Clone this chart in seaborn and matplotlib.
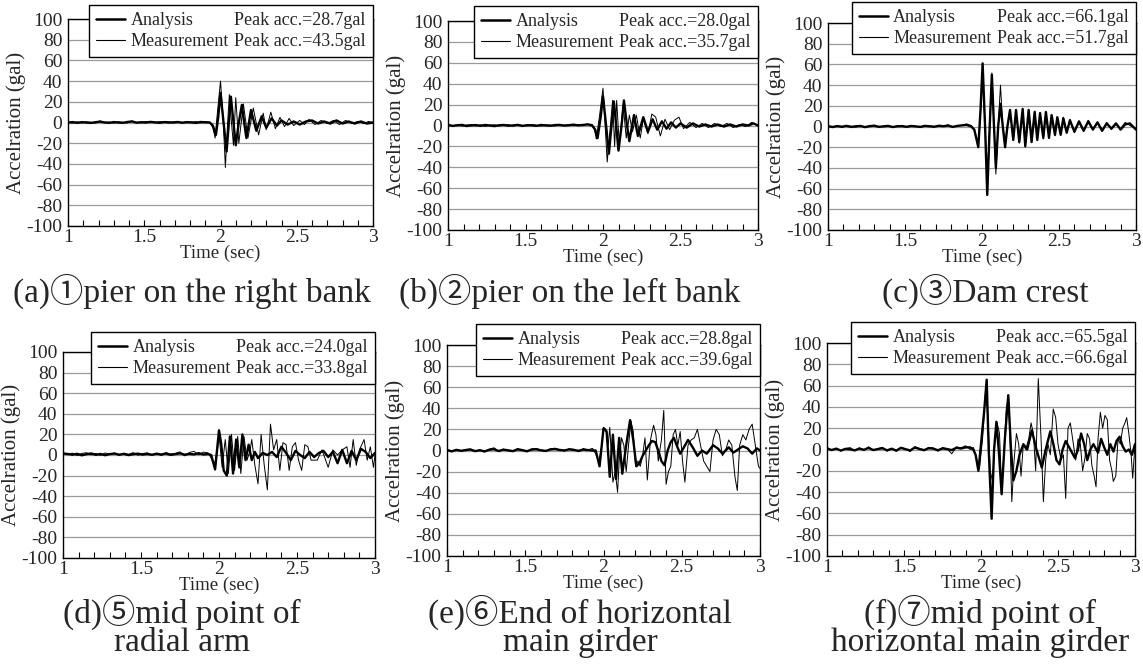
import matplotlib
matplotlib.use("Agg")
import matplotlib.pyplot as plt
from matplotlib.lines import Line2D
from matplotlib.ticker import MultipleLocator
import seaborn as sns

# time axis before the shaking (quiet part), shared by all panels
T_PRE = [1.00, 1.03, 1.06, 1.09, 1.12, 1.15, 1.18, 1.21, 1.24, 1.27,
         1.30, 1.33, 1.36, 1.39, 1.42, 1.45, 1.48, 1.51, 1.54, 1.57,
         1.60, 1.63, 1.66, 1.69, 1.72, 1.75, 1.78, 1.81, 1.84, 1.87, 1.90]

# (a) pier on the right bank
PRE_ANA_a = [0, 0.4, -0.3, 0.3, 0, -0.4, 0.3, 0.8, 0.1, -0.3, 0.4, 0, -0.3, 0.5, 1.0, -0.2,
             0.3, 0, 0.6, 0.2, -0.3, 0.4, 0.2, 0, 0.5, -0.2, 0.3, 0.1, -0.4, 0.5, 0.2]
PRE_MEA_a = [0.3, -0.5, 0.6, -0.3, 0.5, 0.2, -0.6, 1.6, -0.3, 0.4, -0.5, 0.7, 0.1, -0.4, 1.5, 0.2,
             -0.3, 0.8, 0.5, -0.2, 0.9, 0.4, -0.5, 0.6, 0.3, -0.3, 0.7, 0.2, 0.9, -0.4, 1.0]
TA_a = [1.93, 1.95, 1.97, 1.985, 2.0, 2.02, 2.04, 2.055, 2.068, 2.085, 2.10, 2.12, 2.14, 2.155,
        2.17, 2.20, 2.235, 2.27, 2.30, 2.335, 2.37, 2.40, 2.44, 2.48, 2.52, 2.56, 2.60, 2.64,
        2.68, 2.72, 2.76, 2.80, 2.84, 2.88, 2.92, 2.96, 3.00]
ANA_a = [0, -3, -12, 5, 28.7, 0, -28, 0, 25, 0, -22, 0, 17, 0, -15, 12, -8, 6, -5, 4, -3, 2,
         -2, 1, -2, 1, 2, -1, 1, -1, 2, -1, 1, -1, 1, -1, 0]
TM_a = [1.93, 1.95, 1.965, 1.98, 2.0, 2.017, 2.032, 2.045, 2.058, 2.072, 2.085, 2.10, 2.12,
        2.15, 2.18, 2.215, 2.25, 2.28, 2.30, 2.33, 2.36, 2.39, 2.42, 2.45, 2.48, 2.52, 2.55,
        2.58, 2.62, 2.66, 2.70, 2.74, 2.78, 2.82, 2.86, 2.90, 2.94, 2.97, 3.00]
MEA_a = [0, -5, -15, 10, 40, 5, -43.5, -5, 27, 0, -22, 24, -20, 18, -15, 14, -12, 9, -7, 10,
         -6, 5, -4, 4, -3, 2, -2, 3, -2, 2, -1, 2, -2, 2, -1, 1, -1, 1, 0]

# (b) pier on the left bank
PRE_ANA_b = [0.5, -0.4, 0.2, 0.6, -0.5, 0.1, 0.4, -0.3, 0.5, 0, -0.6, 0.3, 0.5, -0.2, 0.1, 0.6,
             -0.4, 0.3, 0.2, -0.3, 0.5, 0.1, -0.2, 0.4, 0.6, -0.1, 0.3, 0.8, 0.2, 0.5, 1.0]
PRE_MEA_b = [1.0, -0.3, 0.8, -0.6, 0.4, 0.9, -0.5, 0.6, -0.8, 0.3, 0.7, -0.4, 0.2, 0.8, -0.6, 0.5,
             0.1, -0.3, 0.9, 0.2, -0.5, 0.6, 0.3, -0.4, 0.7, 0.2, 0.5, -0.2, 0.9, 0.4, 1.5]
TA_b = [1.93, 1.95, 1.965, 1.985, 2.0, 2.02, 2.038, 2.055, 2.07, 2.085, 2.10, 2.12, 2.135,
        2.155, 2.17, 2.20, 2.225, 2.26, 2.29, 2.32, 2.35, 2.38, 2.41, 2.44, 2.47, 2.50, 2.54,
        2.58, 2.62, 2.66, 2.70, 2.74, 2.78, 2.82, 2.86, 2.90, 2.94, 2.97, 3.00]
ANA_b = [0, -4, -12, 8, 28.0, 0, -27, 0, 23, 0, -24, 0, 24, 0, -15, 10, -10, 8, -6, 6, -4, 4,
         -3, 3, -2, 2, -2, 2, -1, 1, -1, 1, -1, 1, -1, 1, 0, 2, 0]
TM_b = [1.93, 1.945, 1.957, 1.98, 2.0, 2.012, 2.027, 2.045, 2.062, 2.075, 2.088, 2.105, 2.13,
        2.15, 2.17, 2.19, 2.215, 2.24, 2.26, 2.29, 2.315, 2.34, 2.37, 2.40, 2.43, 2.46, 2.49,
        2.52, 2.56, 2.60, 2.64, 2.68, 2.72, 2.76, 2.80, 2.84, 2.88, 2.92, 2.96, 3.00]
MEA_b = [1, -4, -13, 12, 35.7, 5, -35, -5, 24, -20, 24, -18, 20, -12, 10, -6, 10, -12, 6, -8,
         11, 8, -10, 6, -4, 5, 8, -3, 3, -2, 2, -2, 2, -1, 2, -2, 1, -1, 3, 0]

# (c) dam crest
PRE_ANA_c = [0.3, -0.5, 0.4, -0.2, 0.6, -0.4, 0.2, 0.5, -0.6, 0.3, 0.8, -0.3, 0.1, 0.6, -0.5, 0.2,
             0.4, -0.3, 0.5, 0.1, -0.4, 0.6, 0.2, -0.2, 0.7, 0.3, 0.9, -0.4, 0.6, 1.0, 1.5]
PRE_MEA_c = [0.8, -0.6, 0.5, -0.9, 0.7, 0.2, -0.7, 0.9, -0.4, 0.6, 1.1, -0.5, 0.3, 0.8, -0.8, 0.4,
             0.9, -0.6, 0.7, 0.3, -0.7, 0.9, 0.5, -0.5, 1.2, 0.4, 1.6, -0.6, 0.8, 1.4, 2.5]
T_c = [1.93, 1.95, 1.976, 1.99, 2.004, 2.02, 2.034, 2.05, 2.064, 2.078, 2.09, 2.105, 2.12,
       2.135, 2.15, 2.165, 2.182, 2.203, 2.221, 2.242, 2.264, 2.281, 2.303, 2.322, 2.342,
       2.359, 2.377, 2.398, 2.415, 2.435, 2.452, 2.474, 2.489, 2.511, 2.528, 2.55, 2.571,
       2.60, 2.63, 2.66, 2.69, 2.72, 2.75, 2.78, 2.81, 2.84, 2.87, 2.90, 2.93, 2.96, 3.00]
ANA_c = [0, -3, -20, 15, 61, 0, -66.1, 0, 50, 0, -40, 0, 22, 0, -20, 0, 16, -13, 16, -15, 17,
         -19, 16, -15, 14, -13, 13, -11, 14, -11, 11, -8, 9, -8, 8, -6, 6, -5, 5, -4, 5, -3, 4,
         -4, 3, -2, 3, -3, 2, 3, -3]
MEA_c = [1, -4, -18, 12, 48, 0, -50, 0, 51.7, 0, -46, 0, 40, 0, -15, 0, 14, -12, 15, -16, 16,
         -20, 15, -14, 15, -12, 12, -12, 13, -10, 10, -9, 8, -7, 9, -5, 7, -6, 4, -5, 6, -2, 3,
         -5, 4, -3, 2, -2, 4, 1, -2]

# (d) mid point of radial arm
PRE_ANA_d = [1.5, 1.0, 0.3, 1.2, -0.3, 0.8, 1.5, 0.2, 1.0, -0.2, 0.9, 1.4, 0.3, 1.1, -0.1, 0.8,
             1.3, 0.4, 1.0, 0.2, 1.2, 0.5, 1.4, 0.1, 0.9, 1.6, 0.3, 1.1, 0.6, 1.8, 0.5]
PRE_MEA_d = [2.0, 0.5, 1.8, -0.5, 1.5, 2.2, 0.1, 1.6, -0.4, 2.0, 0.8, 1.9, -0.2, 1.7, 0.6, 2.3,
             -0.3, 1.4, 2.1, 0.2, 1.8, -0.5, 2.4, 0.9, 1.6, 3.0, -0.8, 2.5, 3.5, 0.2, 2.8]
TA_d = [1.93, 1.95, 1.975, 2.0, 2.015, 2.03, 2.05, 2.07, 2.09, 2.11, 2.13, 2.15, 2.17, 2.19,
        2.21, 2.23, 2.25, 2.28, 2.31, 2.34, 2.37, 2.40, 2.43, 2.46, 2.49, 2.52, 2.55, 2.58,
        2.61, 2.64, 2.67, 2.70, 2.73, 2.76, 2.79, 2.82, 2.85, 2.88, 2.91, 2.94, 2.97, 3.00]
ANA_d = [1, 0, -14, 24.0, 10, -15, -20, 18, -18, 15, -12, 20, -5, 10, -5, 3, -3, 2, 0, 3, -2,
         8, 2, -5, 4, 0, -3, 3, -2, 2, 4, -2, 3, -8, 5, -8, 4, -5, 6, 3, -3, 2]
TM_d = [1.93, 1.95, 1.97, 1.99, 2.0, 2.02, 2.04, 2.06, 2.08, 2.10, 2.12, 2.14, 2.16, 2.18,
        2.20, 2.21, 2.23, 2.25, 2.27, 2.29, 2.31, 2.33, 2.35, 2.37, 2.39, 2.41, 2.43, 2.45,
        2.47, 2.49, 2.51, 2.53, 2.55, 2.57, 2.59, 2.63, 2.66, 2.70, 2.73, 2.76, 2.79, 2.82,
        2.84, 2.86, 2.88, 2.90, 2.93, 2.95, 2.97, 2.99, 3.00]
MEA_d = [2, -3, -10, 5, 20, -12, 15, -18, 20, -15, 18, -18, 18, -5, 5, 15, -10, -28, 20, -10,
         -33.8, 30, 5, 15, -15, 12, 10, -15, 8, 12, -5, -15, 10, 8, -5, -5, 5, -12, 5, 0, 5, 8,
         -12, 15, -10, 5, 15, -5, 8, -12, 0]

# (e) end of horizontal main girder
PRE_ANA_e = [0.5, -0.8, 0.6, -0.3, 0.4, 0.9, -0.6, 0.3, -0.9, 0.7, 1.2, -0.5, 0.8, 0.2, -0.6, 1.0,
             0.4, -0.7, 0.8, 1.1, 0.2, -0.4, 0.9, 1.3, 0.5, 0.1, 1.0, 0.6, -0.3, 0.8, 0.4]
PRE_MEA_e = [0.8, -1.2, 0.9, -0.6, 1.0, 1.4, -1.0, 0.5, -1.4, 1.2, 2.6, -0.8, 1.3, -0.2, -1.0, 1.8,
             0.7, -1.2, 1.5, 2.0, 0.4, -0.9, 1.6, 2.2, 0.8, -0.5, 1.7, 1.0, -1.2, 1.9, 0.6]
TA_e = [1.93, 1.95, 1.975, 2.0, 2.02, 2.04, 2.06, 2.08, 2.10, 2.12, 2.145, 2.17, 2.19, 2.21,
        2.23, 2.25, 2.27, 2.29, 2.31, 2.33, 2.35, 2.37, 2.39, 2.41, 2.43, 2.45, 2.47, 2.49,
        2.51, 2.54, 2.57, 2.60, 2.63, 2.66, 2.70, 2.73, 2.76, 2.80, 2.83, 2.86, 2.89, 2.92,
        2.95, 2.98, 3.00]
ANA_e = [0, 0, -15, 21, 18, -25, 15, -27, 12, -22, 5, 28.8, 10, -15, -12, -5, 0, 5, 9, 8, 0,
         -10, -14, 0, 8, 12, 4, -3, 2, 10, 3, -5, 0, -3, 5, 2, -3, 3, -2, 1, 4, 2, -3, 2, 0]
TM_e = [1.93, 1.95, 1.97, 1.99, 2.00, 2.015, 2.03, 2.04, 2.06, 2.075, 2.09, 2.10, 2.115, 2.13,
        2.145, 2.16, 2.175, 2.19, 2.205, 2.22, 2.235, 2.25, 2.265, 2.28, 2.30, 2.32, 2.335,
        2.35, 2.37, 2.385, 2.40, 2.415, 2.43, 2.445, 2.46, 2.475, 2.49, 2.505, 2.52, 2.54,
        2.56, 2.58, 2.60, 2.62, 2.64, 2.66, 2.68, 2.70, 2.72, 2.74, 2.76, 2.78, 2.80, 2.82,
        2.84, 2.855, 2.87, 2.89, 2.91, 2.93, 2.95, 2.97, 2.99, 3.00]
MEA_e = [2, -3, -10, 5, 22, 20, 5, 22, -30, -20, -39.6, -10, 12, 5, -20, 5, 28, 18, -15, -10,
         -15, -5, 12, -28, 10, 24, 15, -10, 10, 38, -32, -20, -15, 15, 20, 5, 18, -10, -30, 5,
         10, 12, 20, 5, -10, -15, -20, 10, 20, 15, -5, 0, 10, 5, -25, -38, 5, 15, 10, 20, 25,
         5, -15, -17]

# (f) mid point of horizontal main girder
PRE_ANA_f = [1.0, -0.5, 0.8, -1.0, 0.6, 0.2, -0.8, 0.9, -0.3, 1.5, -0.5, 0.4, 1.2, -0.8, 0.7, -1.0,
             1.5, 0.3, -0.9, 1.8, 0.5, -0.6, 1.2, 0.8, -0.7, 1.0, 0.4, -0.5, 1.6, 0.9, 2.0]
PRE_MEA_f = [2.0, -0.8, 1.2, -1.5, 0.9, 1.8, -1.2, 1.5, -0.6, 2.5, -0.9, 0.8, 2.0, -1.5, 1.2, -1.8,
             2.2, 0.5, -2.0, 2.8, 1.0, -1.2, 2.0, 1.5, -1.6, 1.8, 0.8, -4.0, 2.5, 1.6, 3.5]
TA_f = [1.93, 1.95, 1.965, 1.983, 2.0, 2.02, 2.037, 2.05, 2.069, 2.085, 2.10, 2.115, 2.134,
        2.155, 2.177, 2.195, 2.21, 2.23, 2.25, 2.275, 2.30, 2.33, 2.36, 2.395, 2.42, 2.45,
        2.47, 2.49, 2.51, 2.53, 2.55, 2.58, 2.61, 2.63, 2.65, 2.67, 2.69, 2.71, 2.73, 2.76,
        2.78, 2.80, 2.82, 2.84, 2.86, 2.88, 2.90, 2.92, 2.94, 2.96, 2.98, 3.00]
ANA_f = [2, 0, -5, -20, 5, 35, 65.5, 0, -65, 0, 26, 0, -42, 10, 51, 0, -29, -20, -5, 5, 0, 18,
         0, -17, 0, 17, 5, -10, -14, 0, 8, 0, -8, 0, 15, 5, -10, 0, 5, -3, 10, 2, -5, 5, -2, 8,
         12, 3, -2, 0, -5, 5]
TM_f = [1.93, 1.95, 1.97, 1.99, 2.01, 2.03, 2.045, 2.06, 2.075, 2.09, 2.105, 2.12, 2.135, 2.15,
        2.165, 2.18, 2.20, 2.215, 2.23, 2.245, 2.26, 2.275, 2.29, 2.31, 2.325, 2.34, 2.355,
        2.372, 2.39, 2.405, 2.42, 2.435, 2.45, 2.469, 2.485, 2.50, 2.52, 2.535, 2.55, 2.565,
        2.58, 2.60, 2.615, 2.63, 2.645, 2.66, 2.675, 2.69, 2.705, 2.72, 2.735, 2.747, 2.76,
        2.775, 2.79, 2.805, 2.82, 2.835, 2.85, 2.859, 2.875, 2.89, 2.905, 2.92, 2.935, 2.946,
        2.96, 2.975, 2.985, 3.00]
MEA_f = [0, 2, -8, -18, 10, 55, 30, -20, -30, 10, 25, 15, -40, 0, 40, 48, -49, -10, 15, 5, -25,
         5, 0, 10, 25, 15, -20, 66.6, 10, -49, -10, 5, -5, 38, 30, 5, -10, -5, -46, 20, 25, 5,
         -10, 10, 5, -20, -8, 15, 10, -15, -25, -35, 10, 35, 20, 32, 28, -10, -20, -30, -25, 10,
         5, 20, 25, 30, 15, -5, -27, 5]

PEAK_ANA = ["28.7", "28.0", "66.1", "24.0", "28.8", "65.5"]
PEAK_MEA = ["43.5", "35.7", "51.7", "33.8", "39.6", "66.6"]
CAPTIONS = [["(a)①pier on the right bank"],
            ["(b)②pier on the left bank"],
            ["(c)③Dam crest"],
            ["(d)⑤mid point of", "radial arm"],
            ["(e)⑥End of horizontal", "main girder"],
            ["(f)⑦mid point of", "horizontal main girder"]]
Y_TICKS = [-100, -80, -60, -40, -20, 0, 20, 40, 60, 80, 100]
X_TICKS = [1, 1.5, 2, 2.5, 3]
X_LABELS = ["1", "1.5", "2", "2.5", "3"]

sns.set_theme(style="white")
plt.rcParams["font.family"] = ["Liberation Serif", "Noto Sans CJK JP"]
plt.rcParams["axes.unicode_minus"] = False

W, H = 1143, 665
fig = plt.figure(figsize=(W / 100, H / 100), dpi=100)

# pixel boxes of the axes (left, top, right, bottom) and legend top edge
boxes = [(68, 19, 373, 226), (448, 21, 758, 230), (828, 23, 1136, 230),
         (63, 352, 375, 558), (447, 345, 760, 556), (827, 343, 1135, 556)]
leg_top = [5, 6, 2, 332, 324, 322]
cap_pos = [[(192, 291)], [(570, 291)], [(985, 291)],
           [(182, 612), (182, 643)], [(580, 612), (580, 643)], [(980, 612), (980, 643)]]

series = [
    (TA_a, ANA_a, TM_a, MEA_a, PRE_ANA_a, PRE_MEA_a),
    (TA_b, ANA_b, TM_b, MEA_b, PRE_ANA_b, PRE_MEA_b),
    (T_c, ANA_c, T_c, MEA_c, PRE_ANA_c, PRE_MEA_c),
    (TA_d, ANA_d, TM_d, MEA_d, PRE_ANA_d, PRE_MEA_d),
    (TA_e, ANA_e, TM_e, MEA_e, PRE_ANA_e, PRE_MEA_e),
    (TA_f, ANA_f, TM_f, MEA_f, PRE_ANA_f, PRE_MEA_f),
]

for i, (ta, ya, tm, ym, pa, pm) in enumerate(series):
    x0, y0, x1, y1 = boxes[i]
    ax = fig.add_axes([x0 / W, 1 - y1 / H, (x1 - x0) / W, (y1 - y0) / H])

    sns.lineplot(x=T_PRE + tm, y=pm + ym, ax=ax, color="black", linewidth=0.7,
                 sort=False, estimator=None)
    sns.lineplot(x=T_PRE + ta, y=pa + ya, ax=ax, color="black", linewidth=1.7,
                 sort=False, estimator=None)

    ax.set_xlim(1, 3)
    ax.set_ylim(-100, 100)
    ax.set_yticks(Y_TICKS)
    ax.set_yticklabels([str(v) for v in Y_TICKS])
    ax.set_xticks(X_TICKS)
    ax.set_xticklabels(X_LABELS)
    ax.xaxis.set_minor_locator(MultipleLocator(0.1))
    ax.grid(axis="y", color="#9a9a9a", linewidth=0.9)
    ax.tick_params(axis="x", which="both", direction="in", length=4, width=0.8,
                   bottom=True, pad=2, labelsize=14, color="black")
    ax.tick_params(axis="y", length=0, pad=4, labelsize=14)
    for s in ax.spines.values():
        s.set_color("black")
        s.set_linewidth(1.0)
    ax.set_xlabel("Time (sec)", fontsize=13.5, labelpad=-1)
    ax.set_ylabel("Accelration (gal)", fontsize=15, labelpad=0)

    h_ana = Line2D([], [], color="black", linewidth=1.8)
    h_mea = Line2D([], [], color="black", linewidth=0.8)
    blank = Line2D([], [], linestyle="none")
    leg = ax.legend([h_ana, h_mea, blank, blank],
                    ["Analysis", "Measurement",
                     "Peak acc.=" + PEAK_ANA[i] + "gal", "Peak acc.=" + PEAK_MEA[i] + "gal"],
                    ncol=2, loc="upper right",
                    bbox_to_anchor=(1, 1 + (y0 - leg_top[i]) / (y1 - y0)),
                    fontsize=13, handlelength=1.6, handletextpad=0.3,
                    columnspacing=-1.6, labelspacing=0.2, borderpad=0.4,
                    borderaxespad=0, frameon=True, fancybox=False,
                    edgecolor="black", framealpha=1)
    leg.get_frame().set_linewidth(1.0)

    for text, (cx, cy) in zip(CAPTIONS[i], cap_pos[i]):
        fig.text(cx / W, 1 - cy / H, text, ha="center", va="center", fontsize=24)

fig.savefig("out.png", dpi=100)
